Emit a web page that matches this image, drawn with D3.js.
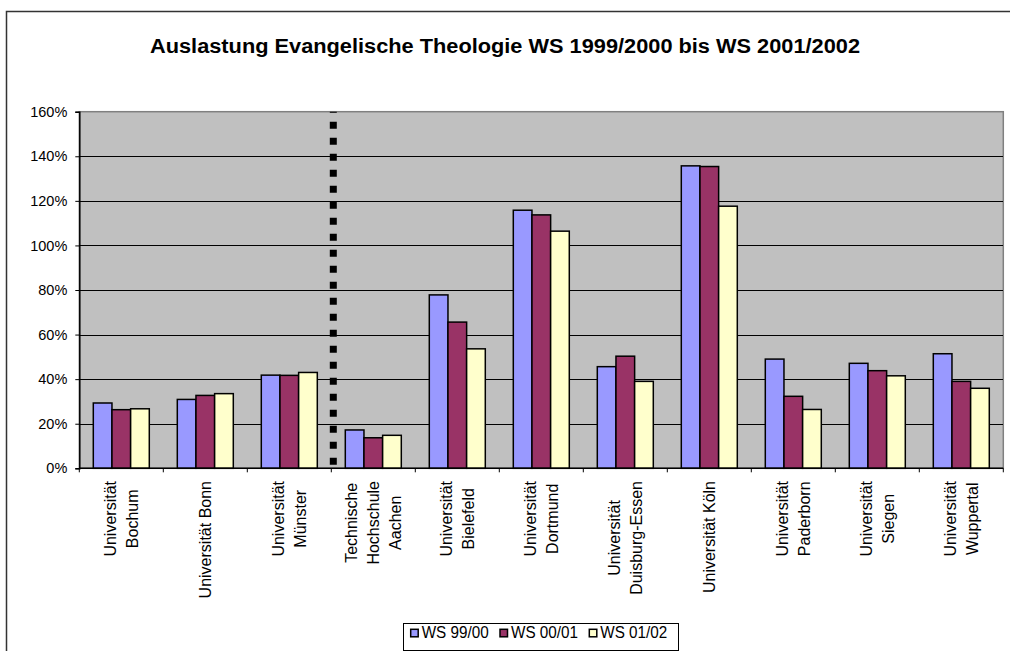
<!DOCTYPE html>
<meta charset="utf-8">
<style>
body { margin: 0; background: #fff; }
svg { display: block; font-family: "Liberation Sans", Arial, sans-serif; }
.grid line { stroke: #000; shape-rendering: crispEdges; }
.bar { stroke: #000; stroke-width: 1.5px; }
</style>
<script src="https://cdn.jsdelivr.net/npm/d3@7"></script>
<body>
<div id="chart"></div>
<script>
// categories (line breaks as in the original axis labels)
var categories = [
  "Universität\nBochum",
  "Universität Bonn",
  "Universität\nMünster",
  "Technische\nHochschule\nAachen",
  "Universität\nBielefeld",
  "Universität\nDortmund",
  "Universität\nDuisburg-Essen",
  "Universität Köln",
  "Universität\nPaderborn",
  "Universität\nSiegen",
  "Universität\nWuppertal"
];
var seriesNames = ["WS 99/00", "WS 00/01", "WS 01/02"];
var ws9900 = [0.293, 0.309, 0.418, 0.172, 0.778, 1.158, 0.456, 1.357, 0.490, 0.471, 0.514];
var ws0001 = [0.263, 0.327, 0.417, 0.137, 0.656, 1.137, 0.503, 1.354, 0.323, 0.438, 0.390];
var ws0102 = [0.267, 0.335, 0.430, 0.148, 0.536, 1.064, 0.390, 1.176, 0.264, 0.415, 0.359];
var yTicks = [0, 0.2, 0.4, 0.6, 0.8, 1.0, 1.2, 1.4, 1.6];
var dividerAfter = 2; // dotted line after Münster
var title = "Auslastung Evangelische Theologie WS 1999/2000 bis WS 2001/2002";

var colors = ["#9999ff", "#993366", "#ffffcc"];
var seriesValues = [ws9900, ws0001, ws0102];

var W = 1010, H = 651;
var pLeft = 79.3, pRight = 1003.3, pTop = 111.7, pBottom = 468.3;

var svg = d3.select("#chart").append("svg")
    .attr("width", W)
    .attr("height", H);

// outer chart border (right/bottom run off the picture)
svg.append("rect")
    .attr("x", 6.5).attr("y", 11.5)
    .attr("width", 1100).attr("height", 700)
    .attr("fill", "#fff")
    .attr("stroke", "#333")
    .attr("stroke-width", 1.5);

svg.append("text")
    .attr("x", 505).attr("y", 52.5)
    .attr("text-anchor", "middle")
    .attr("font-size", 20)
    .attr("font-weight", "bold")
    .attr("textLength", 710)
    .attr("lengthAdjust", "spacingAndGlyphs")
    .text(title);

var x0 = d3.scaleBand().domain(categories).range([pLeft, pRight]).padding(0);
var x1 = d3.scaleBand().domain(seriesNames).range([0, x0.bandwidth()]).paddingInner(0).paddingOuter(0.75);
var y = d3.scaleLinear().domain([0, 1.6]).range([pBottom, pTop]);

// plot area
svg.append("rect")
    .attr("x", pLeft).attr("y", pTop)
    .attr("width", pRight - pLeft).attr("height", pBottom - pTop)
    .attr("fill", "#c0c0c0")
    .attr("stroke", "#808080")
    .attr("stroke-width", 1.5);

svg.append("g")
    .attr("class", "grid")
  .selectAll("line")
  .data(yTicks.slice(1, -1))
  .enter().append("line")
    .attr("x1", pLeft).attr("x2", pRight)
    .attr("y1", function(d) { return Math.round(y(d)) + 0.5; })
    .attr("y2", function(d) { return Math.round(y(d)) + 0.5; });

// bars
var rows = categories.map(function(c, i) {
  return seriesNames.map(function(s, j) { return { cat: c, s: s, j: j, v: seriesValues[j][i] }; });
});

svg.append("g")
  .selectAll("g")
  .data(rows)
  .enter().append("g")
    .attr("transform", function(d) { return "translate(" + x0(d[0].cat) + ",0)"; })
  .selectAll("rect")
  .data(function(d) { return d; })
  .enter().append("rect")
    .attr("class", "bar")
    .attr("x", function(d) { return x1(d.s); })
    .attr("y", function(d) { return y(d.v); })
    .attr("width", x1.bandwidth())
    .attr("height", function(d) { return y(0) - y(d.v); })
    .attr("fill", function(d) { return colors[d.j]; });

// dotted separator
var dx = x0(categories[dividerAfter + 1]) + 2;
svg.append("line")
    .attr("x1", dx).attr("x2", dx)
    .attr("y1", y(1.6)).attr("y2", y(0))
    .attr("stroke", "#000")
    .attr("stroke-width", 7)
    .attr("stroke-dasharray", "7 9")
    .attr("stroke-dashoffset", 5.9);

// y axis
var yAxis = svg.append("g")
    .attr("transform", "translate(" + pLeft + ",0)")
    .call(d3.axisLeft(y).tickValues(yTicks).tickFormat(d3.format(".0%")).tickSize(4).tickPadding(8));
yAxis.select(".domain").attr("stroke", "#000").attr("stroke-width", 1.5);
yAxis.selectAll(".tick line").attr("stroke", "#000");
yAxis.selectAll("text")
    .attr("font-size", 14.5)
    .attr("font-family", "Liberation Sans, Arial, sans-serif")
    .attr("fill", "#000");

// x axis line + boundary ticks
svg.append("line")
    .attr("x1", pLeft).attr("x2", pRight)
    .attr("y1", pBottom).attr("y2", pBottom)
    .attr("stroke", "#000").attr("stroke-width", 1.5);
var bounds = categories.map(function(c) { return x0(c); }).concat([pRight]);
svg.append("g")
  .selectAll("line")
  .data(bounds)
  .enter().append("line")
    .attr("x1", function(d) { return d; }).attr("x2", function(d) { return d; })
    .attr("y1", pBottom).attr("y2", pBottom + 4)
    .attr("stroke", "#000");

// rotated category labels
var lineGap = 21.7;
var labels = svg.append("g")
  .selectAll("g")
  .data(categories)
  .enter().append("g")
    .attr("transform", function(d) { return "translate(" + (x0(d) + x0.bandwidth() / 2) + ",481) rotate(-90)"; });

labels.each(function(d) {
  var g = d3.select(this);
  var lines = d.split("\n");
  var n = lines.length;
  var texts = g.selectAll("text")
    .data(lines)
    .enter().append("text")
      .attr("font-size", 16)
      .attr("y", function(l, i) { return (i - (n - 1) / 2) * lineGap; })
      .attr("dy", "0.36em")
      .text(function(l) { return l; });
  var maxLen = d3.max(texts.nodes(), function(t) { return t.getComputedTextLength(); });
  texts.attr("text-anchor", "middle").attr("x", -maxLen / 2);
});

// legend
var legend = svg.append("g");
legend.append("rect")
    .attr("x", 403.5).attr("y", 623.5)
    .attr("width", 275).attr("height", 27)
    .attr("fill", "#fff")
    .attr("stroke", "#000");
var item = legend.selectAll("g.item")
  .data(seriesNames)
  .enter().append("g")
    .attr("class", "item")
    .attr("transform", function(d, i) { return "translate(" + (410.7 + i * 89.3) + ",629.3)"; });
item.append("rect")
    .attr("width", 7.5).attr("height", 7.5)
    .attr("fill", function(d, i) { return colors[i]; })
    .attr("stroke", "#000")
    .attr("stroke-width", 1.5);
item.append("text")
    .attr("x", 11).attr("y", 9)
    .attr("font-size", 16)
    .attr("textLength", 67)
    .attr("lengthAdjust", "spacingAndGlyphs")
    .text(function(d) { return d; });
</script>
</body>
